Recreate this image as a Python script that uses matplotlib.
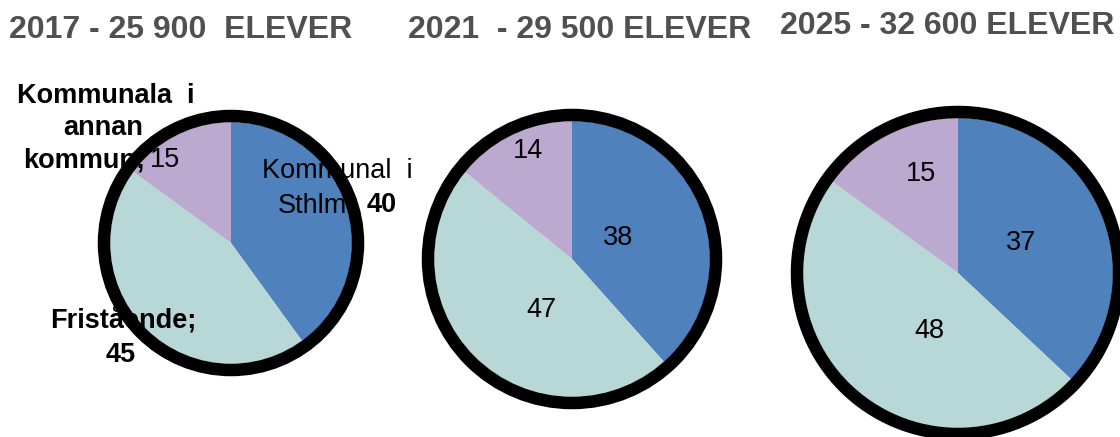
import matplotlib
matplotlib.use('Agg')
import matplotlib.pyplot as plt
from matplotlib.patches import Circle

# ---- data ----
titles = ['2017 - 25 900  ELEVER', '2021  - 29 500 ELEVER', '2025 - 32 600 ELEVER']
categories = ['Kommunal i Sthlm', 'Fristående', 'Kommunala i annan kommun']
sthlm = [40, 38, 37]
fristaende = [45, 47, 48]
annan = [15, 14, 15]
colors = ['#4F81BD', '#B7D8D6', '#BCA9D0']

# ---- layout (pixel coordinates, y downward) ----
W, H = 1120, 437
centers = [(231, 243), (572, 259), (958, 273)]
radii = [121, 138, 155]
title_pos = [(181, 38), (580, 38), (947, 34)]
# number label positions (pies 2 and 3), baseline positions in pixels
num_pos = {
    1: [(618, 245), (541, 317), (528, 158)],
    2: [(1021, 250), (929, 338), (921, 181)],
}

FONT = ['Liberation Sans', 'DejaVu Sans']
FS = 19.5

fig = plt.figure(figsize=(W / 100, H / 100), dpi=100)
ax = fig.add_axes([0, 0, 1, 1])


def py(y):
    return H - y


def label(x, y, s, ha='center', bold=False):
    ax.text(x, py(y), s, ha=ha, va='baseline', fontsize=FS,
            fontweight='bold' if bold else 'normal', color='black',
            family=FONT, zorder=4)


for i in range(3):
    vals = [sthlm[i], fristaende[i], annan[i]]
    cx, cyp = centers[i]
    cy = py(cyp)
    r = radii[i]
    ax.pie(vals, colors=colors, startangle=90, counterclock=False,
           center=(cx, cy), radius=r, frame=True,
           wedgeprops=dict(linewidth=0, zorder=2))
    ring = Circle((cx, cy), r + 6, fill=False, lw=12.5 * 72 / 100,
                  ec='black', zorder=5)
    ax.add_patch(ring)
    ax.text(title_pos[i][0], py(title_pos[i][1]), titles[i], ha='center',
            va='baseline', fontsize=23, fontweight='bold', color='#505050',
            family=FONT)
    if i > 0:
        for (x, y), v in zip(num_pos[i], vals):
            label(x, y, str(v))

# pie 1 labels (category name; value)
label(106, 103, 'Kommunala  i', bold=True)
label(103, 135, 'annan', bold=True)
label(23, 167, 'kommun;', ha='left', bold=True)
label(150, 167, f'{annan[0]}', ha='left')

label(337, 178, 'Kommunal  i')
label(278, 212, 'Sthlm;', ha='left')
label(367, 212, f'{sthlm[0]}', ha='left', bold=True)

label(123, 328, 'Fristående;', bold=True)
label(121, 362, f'{fristaende[0]}', bold=True)

ax.set_xlim(0, W)
ax.set_ylim(0, H)
ax.set_aspect('auto')
ax.axis('off')
fig.savefig('out.png', dpi=100, facecolor='white')
